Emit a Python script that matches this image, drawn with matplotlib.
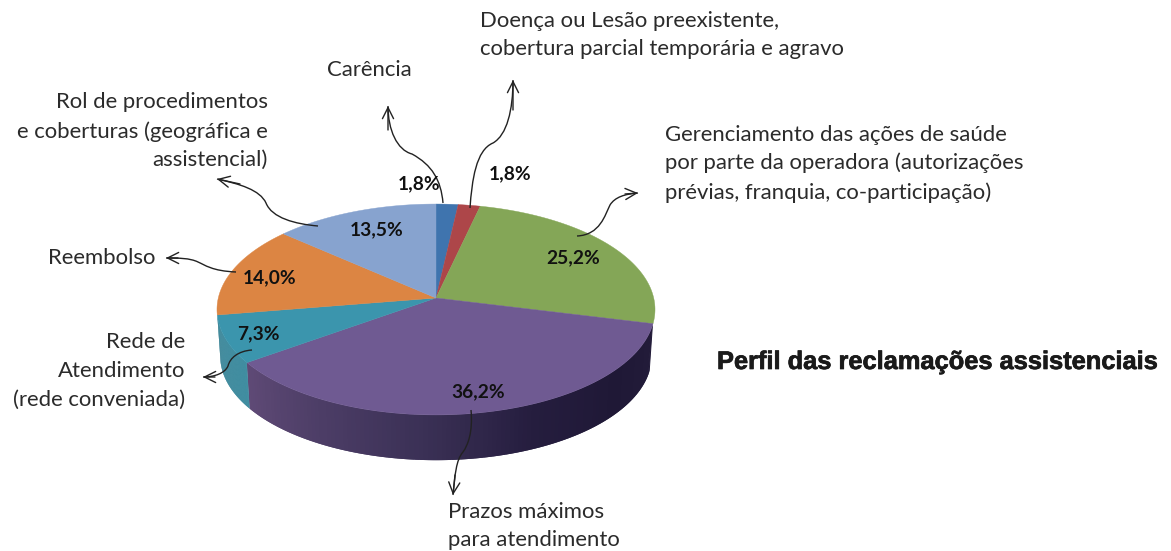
import numpy as np
import matplotlib
matplotlib.use("Agg")
import matplotlib.pyplot as plt
import matplotlib.patheffects as pe
from matplotlib.path import Path
from matplotlib.patches import PathPatch
from matplotlib.colors import to_rgb

categories = ["Carência", "Doença ou Lesão", "Gerenciamento", "Prazos máximos",
              "Rede de Atendimento", "Reembolso", "Rol de procedimentos"]
values = [1.8, 1.8, 25.2, 36.2, 7.3, 14.0, 13.5]
value_labels = ["1,8%", "1,8%", "25,2%", "36,2%", "7,3%", "14,0%", "13,5%"]
title = "Perfil das reclamações assistenciais"

top_colors = ["#3f74ae", "#ad4649", "#84a657", "#6f5a92", "#3b95ad", "#dc8543", "#87a3cf"]
# side colour stops, left to right
side_stops = {3: ["#5f4a76", "#4c3d66", "#3a3055", "#251d3e", "#1f1836", "#231c3a"],
              4: ["#2f7f93", "#3a8a9e"]}

fig = plt.figure(figsize=(11.71, 5.51), dpi=100)
ax = fig.add_axes([0, 0, 1, 1])
ax.set_xlim(0, 1171)
ax.set_ylim(551, 0)
ax.axis("off")


# the pie is in perspective: front bigger than back
def project(theta, scale=1.0, dy=0.0):
    u, v = np.sin(theta), np.cos(theta)
    w = 1 + 0.109 * v
    return 436 + 217.7 * scale * u / w, 298 - 104.2 * scale * v / w + dy


edges = np.cumsum([0] + values) / sum(values) * 2 * np.pi

# side wall first
for i in side_stops:
    th = np.linspace(edges[i], edges[i + 1], 120)
    stops = np.array([to_rgb(c) for c in side_stops[i]])
    for k in range(len(th) - 1):
        t = np.array([th[k], th[min(k + 2, len(th) - 1)]])
        x0, y0 = project(t)
        x1, y1 = project(t[::-1], 0.985, 47)
        # stops run left to right, angle runs right to left
        f = 1 - k / (len(th) - 2)
        col = [np.interp(f, np.linspace(0, 1, len(stops)), stops[:, c]) for c in range(3)]
        ax.fill(np.r_[x0, x1], np.r_[y0, y1], color=col, lw=0)

# top
for i in range(len(values)):
    th = np.linspace(edges[i], edges[i + 1], 80)
    x, y = project(th)
    ax.fill(np.r_[436, x], np.r_[298, y], color=top_colors[i], lw=0.3)

font = "Lato"
ink = "#2b2b2b"
label_pos = [(419, 184), (510, 174), (573, 258), (478, 392), (258, 334), (270, 278), (377, 230)]
for s, (x, y) in zip(value_labels, label_pos):
    ax.text(x, y, s, family=font, weight="bold", fontsize=13.8, ha="center", va="center", color="#111111")

texts = [
    ("Doença ou Lesão preexistente,", 480, 21, "left"),
    ("cobertura parcial temporária e agravo", 480, 49, "left"),
    ("Carência", 327, 70, "left"),
    ("Rol de procedimentos", 268, 102, "right"),
    ("e coberturas (geográfica e", 268, 132, "right"),
    ("assistencial)", 268, 160, "right"),
    ("Gerenciamento das ações de saúde", 665, 135, "left"),
    ("por parte da operadora (autorizações", 665, 163, "left"),
    ("prévias, franquia, co-participação)", 665, 193, "left"),
    ("Reembolso", 48, 258, "left"),
    ("Rede de", 185, 342, "right"),
    ("Atendimento", 185, 371, "right"),
    ("(rede conveniada)", 185, 400, "right"),
    ("Prazos máximos", 448, 512, "left"),
    ("para atendimento", 448, 540, "left"),
]
for s, x, y, ha in texts:
    ax.text(x, y, s, family=font, fontsize=15.9, ha=ha, va="center", color=ink)

ax.text(717, 362, title, family="Liberation Sans", weight="bold", fontsize=18.3, ha="left", va="center",
        color="#1a1a1a", path_effects=[pe.withStroke(linewidth=0.5, foreground="#1a1a1a")])

# hand drawn arrows, two bezier pieces each
arrows = [
    [(443, 203), (441, 180), (432, 165), (412, 154), (397, 150), (388, 130), (388, 106)],
    [(470, 208), (472, 180), (476, 150), (493, 143), (507, 135), (513, 110), (513, 80)],
    [(577, 236), (600, 235), (605, 215), (610, 205), (615, 197), (625, 194), (638, 193)],
    [(318, 226), (295, 224), (272, 218), (266, 203), (260, 190), (240, 184), (217, 179)],
    [(236, 272), (212, 271), (205, 265), (198, 262), (190, 258), (178, 258), (166, 258)],
    [(252, 350), (238, 351), (230, 358), (228, 366), (225, 373), (215, 377), (203, 377)],
    [(471, 410), (473, 432), (468, 445), (463, 452), (456, 460), (455, 475), (453, 495)],
]
for pts in arrows:
    codes = [Path.MOVETO] + [Path.CURVE4] * 6
    ax.add_patch(PathPatch(Path(pts, codes), fc="none", ec="#222222", lw=1.0))
    ax.annotate("", xy=pts[-1], xytext=pts[-2],
                arrowprops=dict(arrowstyle="->", color="#222222", lw=1.0, shrinkA=0, shrinkB=0, mutation_scale=20))

fig.savefig("out.png", dpi=100, facecolor="white")
